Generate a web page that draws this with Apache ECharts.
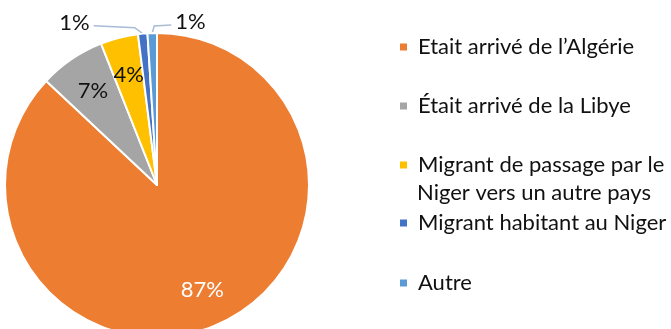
<!DOCTYPE html>
<html>
<head>
<meta charset="utf-8">
<script src="https://cdn.jsdelivr.net/npm/echarts@6/dist/echarts.min.js"></script>
<style>
  html, body { margin: 0; padding: 0; background: #fff; }
  #chart { width: 671px; height: 329px; }
</style>
</head>
<body>
<div id="chart"></div>
<script>
// Provenance des migrants (en %)
const categories = [
  "Etait arrivé de l\u2019Algérie",
  "Était arrivé de la Libye",
  "Migrant de passage par le Niger vers un autre pays",
  "Migrant habitant au Niger",
  "Autre"
];
const values = [87, 7, 4, 1, 1];
const colors = ["#ED7D31", "#A5A5A5", "#FFC000", "#4472C4", "#5B9BD5"];
const labelColors = ["#ffffff", "#111111", "#111111", "#111111", "#111111"];
const legendLines = [
  ["Etait arrivé de l\u2019Algérie"],
  ["Était arrivé de la Libye"],
  ["Migrant de passage par le", "Niger vers un autre pays"],
  ["Migrant habitant au Niger"],
  ["Autre"]
];

const FONT = "Lato, 'Open Sans', sans-serif";
const FS = 22;
const CX = 157, CY = 185, R = 152;
const legendX = 398;
const legendRows = [47, 106, 165, 223, 283];
const lineGap = 28;

const total = values.reduce((a, b) => a + b, 0);
function midAngle(i) {
  let s = 0;
  for (let j = 0; j < i; j++) s += values[j];
  return (s + values[i] / 2) / total * Math.PI * 2;
}
function polar(theta, r) {
  return [CX + r * Math.sin(theta), CY - r * Math.cos(theta)];
}

const smallSlice = v => v / total < 0.02;

const pieData = categories.map((name, i) => ({
  name: name,
  value: values[i],
  itemStyle: { color: colors[i] },
  label: {
    position: smallSlice(values[i]) ? "outside" : "inside",
    color: labelColors[i]
  },
  labelLine: { show: smallSlice(values[i]) }
}));

// one legend block per row so rows keep their own vertical rhythm
const legends = categories.map((name, i) => ({
  data: [name],
  orient: "vertical",
  left: legendX,
  top: legendRows[i] - lineGap / 2,
  padding: 0,
  itemWidth: 9,
  itemHeight: 9,
  icon: "rect",
  selectedMode: false,
  formatter: () => legendLines[i][0],
  textStyle: {
    fontFamily: FONT,
    fontSize: FS,
    color: "#111",
    lineHeight: lineGap,
    padding: [0, 0, 0, 5]
  }
}));

// continuation lines of wrapped legend entries
const graphics = [];
legendLines.forEach((lines, i) => {
  for (let k = 1; k < lines.length; k++) {
    graphics.push({
      type: "text",
      left: legendX + 19,
      top: legendRows[i] + k * lineGap - lineGap / 2,
      style: {
        text: lines[k],
        fontFamily: FONT,
        fontSize: FS,
        fill: "#111",
        lineHeight: lineGap
      }
    });
  }
});

const chart = echarts.init(document.getElementById("chart"), null, { renderer: "canvas" });
chart.setOption({
  animation: false,
  legend: legends,
  graphic: graphics,
  series: [{
    type: "pie",
    center: [CX, CY],
    radius: [0, R],
    startAngle: 90,
    clockwise: true,
    avoidLabelOverlap: false,
    itemStyle: { borderColor: "#fff", borderWidth: 2 },
    label: {
      formatter: "{c}%",
      fontFamily: FONT,
      fontSize: FS,
      color: "#111"
    },
    labelLine: {
      lineStyle: { color: "#A9BCD6", width: 1.5 }
    },
    emphasis: { disabled: true },
    labelLayout: function (p) {
      const i = p.dataIndex;
      const theta = midAngle(i);
      if (!smallSlice(values[i])) {
        const c = polar(theta, R * 0.75);
        return { x: c[0], y: c[1], align: "center", verticalAlign: "middle" };
      }
      const a = polar(theta, R);
      // the first small slice leads to the left, the next to the right
      const firstSmall = values.findIndex(v => smallSlice(v));
      if (i === firstSmall) {
        const elbow = [a[0] - 8, a[1] - 6];
        const end = [elbow[0] - 41, elbow[1] - 2];
        return {
          x: end[0] - 4, y: end[1] - 3,
          align: "right", verticalAlign: "middle",
          labelLinePoints: [a, elbow, end]
        };
      }
      const elbow = [a[0] + 2, a[1] - 7];
      const end = [elbow[0] + 17, elbow[1] - 1];
      return {
        x: end[0] + 4, y: end[1] - 3,
        align: "left", verticalAlign: "middle",
        labelLinePoints: [a, elbow, end]
      };
    },
    data: pieData
  }]
});
</script>
</body>
</html>
